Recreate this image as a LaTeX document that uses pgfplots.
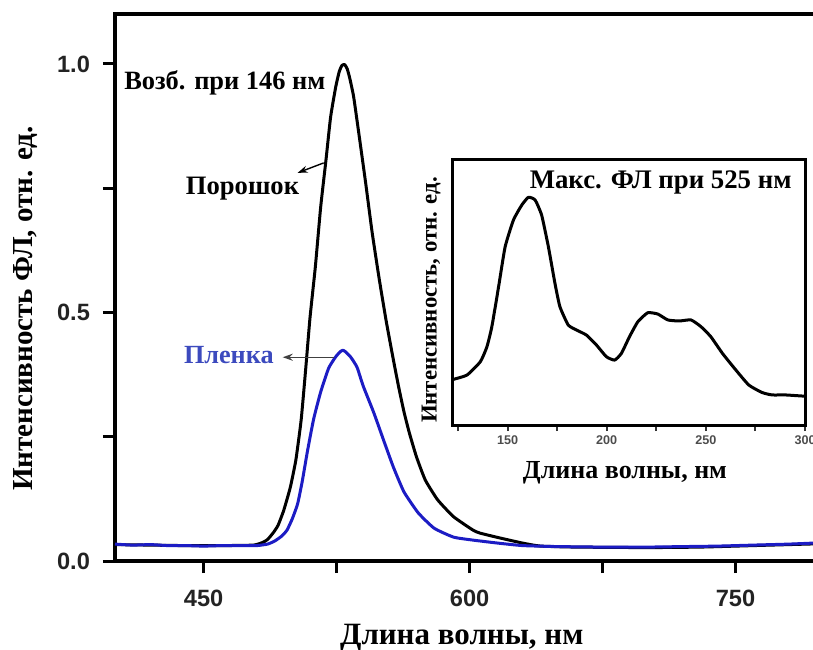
\documentclass[border=0pt]{standalone}
\usepackage{fontspec}
\usepackage{pgfplots}
\pgfplotsset{compat=1.18}
\usetikzlibrary{arrows.meta}
\setmainfont{Liberation Serif}
\newfontfamily\arialfont{Liberation Sans}

\definecolor{filmblue}{RGB}{28,28,196}
\definecolor{filmtext}{RGB}{60,74,190}
\definecolor{ticktext}{RGB}{35,35,35}

% Photoluminescence spectra, excitation at 146 nm
\pgfplotstableread{
x y
400 0.033
420 0.032
440 0.031
460 0.031
478 0.032
483 0.037
486 0.043
489.5 0.058
492 0.072
495 0.100
497 0.124
499 0.150
502 0.203
505 0.284
507.5 0.384
510 0.490
513 0.592
516 0.712
519 0.807
521.6 0.893
524.5 0.954
526.5 0.985
528 0.997
529.5 0.999
531 0.990
532.5 0.970
534.6 0.934
537.5 0.861
541.4 0.760
545 0.662
549 0.568
553 0.482
557 0.405
560 0.350
563 0.300
566 0.258
570 0.210
575 0.163
582 0.123
591 0.089
602 0.062
606 0.056
617.5 0.046
630 0.036
640 0.030
660 0.028
700 0.027
730 0.028
760 0.031
800 0.035
}\powder

\pgfplotstableread{
x y
400 0.034
410 0.032
420 0.033
430 0.031
440 0.031
450 0.030
460 0.031
470 0.031
480 0.031
486 0.034
490 0.040
494 0.050
497 0.062
500 0.085
503 0.115
505.6 0.160
508.5 0.220
512 0.285
516 0.340
520.5 0.388
524.5 0.411
527 0.421
528.5 0.424
530 0.421
533 0.410
536.5 0.390
540 0.352
546 0.298
551.5 0.243
557 0.189
563 0.139
571 0.097
580 0.066
591 0.048
602 0.042
616 0.036
630 0.031
650 0.029
675 0.028
700 0.028
720 0.029
740 0.030
760 0.032
780 0.034
800 0.037
}\film

% Excitation spectrum, emission monitored at 525 nm
\pgfplotstableread{
x y
122.0 0.170
122.9 0.172
129.6 0.188
136.3 0.238
139.6 0.294
142.1 0.370
145.5 0.520
148.8 0.670
153.0 0.771
157.2 0.827
160.5 0.856
163.9 0.846
167.2 0.789
170.6 0.670
173.9 0.533
176.4 0.445
180.6 0.376
184.8 0.357
189.8 0.338
194.8 0.301
199.8 0.257
204.0 0.244
207.4 0.269
211.5 0.332
215.7 0.388
220.7 0.422
225.8 0.417
230.8 0.395
236.6 0.391
242.5 0.395
247.5 0.370
252.5 0.332
258.4 0.269
265.1 0.207
271.7 0.150
278.4 0.122
283.4 0.113
290.1 0.113
298.5 0.109
300.0 0.109
}\excitation

\begin{document}
\begin{tikzpicture}
\begin{axis}[
  name=main,
  at={(0,0)}, anchor=south west,
  scale only axis,
  width=354.6pt, height=273.35pt,
  xmin=400, xmax=800, ymin=0, ymax=1.1,
  xtick={450,600,750}, minor xtick={525,675},
  ytick={0,0.5,1}, minor ytick={0.25,0.75},
  tick pos=left, tick align=outside,
  major tick length=6pt, minor tick length=6pt,
  every tick/.style={black, line width=1.5pt},
  axis line style={line width=2pt},
  /pgf/number format/.cd, fixed, fixed zerofill, precision=1, assume math mode=true,
  /pgfplots/.cd,
  xticklabel style={/pgf/number format/precision=0, yshift=-5pt},
  yticklabel style={xshift=-3pt},
  tick label style={font=\arialfont\bfseries\fontsize{11.8}{13}\selectfont, text=ticktext},
  xlabel={Длина волны, нм},
  ylabel={Интенсивность ФЛ, отн. ед.},
  xlabel style={at={(axis description cs:0.489,-0.141)}, anchor=center,
    font=\bfseries\fontsize{15.5}{17}\selectfont},
  ylabel style={at={(axis description cs:-0.1255,0.462)}, anchor=center,
    font=\bfseries\fontsize{14.5}{17}\selectfont},
  clip=true,
]
\addplot[black, line width=1.5pt, line join=round, smooth, tension=0.3] table {\powder};
\addplot[filmblue, line width=1.5pt, line join=round, smooth, tension=0.3] table {\film};

\node[anchor=west, inner sep=0pt, font=\bfseries\fontsize{13.2}{15}\selectfont]
  at (axis cs:405,0.962) {Возб. при 146 нм};
\node[anchor=west, inner sep=0pt, font=\bfseries\fontsize{13.3}{15}\selectfont]
  at (axis cs:439.8,0.750) {Порошок};
\draw[black, line width=0.7pt, -{Stealth[length=5pt,width=3.5pt]}]
  (axis cs:517.7,0.801) -- (axis cs:503,0.781);
\node[anchor=west, inner sep=0pt, text=filmtext, font=\bfseries\fontsize{13.1}{15}\selectfont]
  at (axis cs:438.7,0.414) {Пленка};
\draw[black!75, line width=0.7pt, -{Stealth[length=5pt,width=3.5pt]}]
  (axis cs:523.5,0.410) -- (axis cs:494.6,0.410);
\end{axis}

\begin{axis}[
  at={(168.5pt,68pt)}, anchor=south west,
  scale only axis,
  width=176.5pt, height=133pt,
  xmin=122, xmax=300, ymin=0, ymax=1,
  xtick={150,200,250,300}, minor xtick={125,175,225,275},
  ytick=\empty,
  xtick pos=left, tick align=outside,
  major tick length=3pt, minor tick length=3pt,
  every tick/.style={black!80, line width=1pt},
  axis line style={line width=1.5pt},
  axis background/.style={fill=white},
  xticklabel style={font=\arialfont\bfseries\fontsize{6.3}{7}\selectfont, text=black!70, yshift=1pt},
  /pgf/number format/assume math mode=true,
  xlabel={Длина волны, нм},
  ylabel={Интенсивность, отн. ед.},
  xlabel style={at={(axis description cs:0.49,-0.18)}, anchor=center,
    font=\bfseries\fontsize{13}{15}\selectfont},
  ylabel style={at={(axis description cs:-0.059,0.47)}, anchor=center,
    font=\bfseries\fontsize{11.4}{13}\selectfont},
]
\addplot[black, line width=1.5pt, line join=round, smooth, tension=0.3] table {\excitation};
\node[anchor=east, inner sep=0pt, font=\bfseries\fontsize{13.4}{15}\selectfont]
  at (axis description cs:0.963,0.91) {Макс. ФЛ при 525 нм};
\end{axis}

\pgfresetboundingbox
\path[use as bounding box] (-57.5pt,-44pt) rectangle (349pt,280.5pt);
\end{tikzpicture}
\end{document}
